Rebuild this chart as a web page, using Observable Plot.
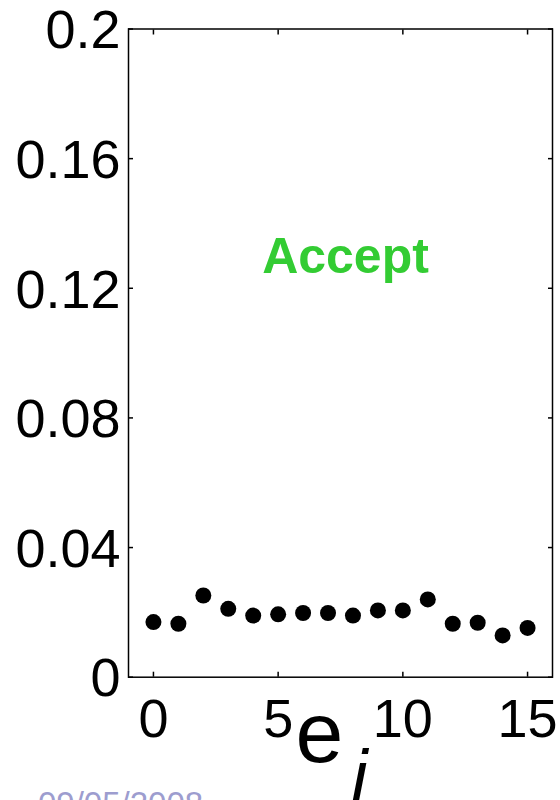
<!DOCTYPE html>
<html><head><meta charset="utf-8">
<script src="https://cdn.jsdelivr.net/npm/d3@7"></script>
<script src="https://cdn.jsdelivr.net/npm/@observablehq/plot@0.6"></script>
<style>
html,body{margin:0;padding:0;background:#fff;overflow:hidden;}
#wrap{position:relative;width:560px;height:800px;overflow:hidden;}
#date{position:absolute;left:38px;top:787px;font:33px "Liberation Sans",Arial,sans-serif;color:#9d9dcf;line-height:1;white-space:nowrap;}
</style></head><body>
<div id="wrap"><div id="chart"></div><div id="date">09/05/2008</div></div>
<script>
const ei = [0,1,2,3,4,5,6,7,8,9,10,11,12,13,14,15];
const values = [0.0170,0.0165,0.0252,0.0211,0.0190,0.0194,0.0198,0.0198,0.0190,0.0206,0.0206,0.0240,0.0165,0.0168,0.0129,0.0152];
const xTicks = [0,5,10,15];
const yTicks = [0,0.04,0.08,0.12,0.16,0.2];
const yTickLabels = ["0","0.04","0.08","0.12","0.16","0.2"];
const annotation = [{x: 7.7, y: 0.1246, text: "Accept"}];
const xLabelMain = "e";
const xLabelSub = "i";

const data = ei.map((e, i) => ({e, v: values[i]}));
const font = '"Liberation Sans", Arial, Helvetica, sans-serif';

const plot = Plot.plot({
  width: 560,
  height: 800,
  marginLeft: 128,
  marginRight: 8,
  marginTop: 28.5,
  marginBottom: 123.3,
  style: {fontFamily: font, background: "white", color: "black"},
  x: {domain: [-1, 16]},
  y: {domain: [0, 0.2]},
  marks: [
    Plot.frame({stroke: "black", strokeWidth: 1.5}),
    // tick labels
    Plot.axisX({ticks: xTicks, anchor: "bottom", tickSize: 0, tickPadding: 21, fontSize: 54, label: null, tickFormat: d => String(d)}),
    Plot.axisY({ticks: yTicks, anchor: "left", tickSize: 0, tickPadding: 8, dy: 2, fontSize: 54, label: null, tickFormat: d => yTickLabels[yTicks.indexOf(d)]}),
    // inward ticks on all four sides
    Plot.axisX({ticks: xTicks, anchor: "bottom", tickSize: -5, strokeWidth: 1.5, tickFormat: () => "", label: null}),
    Plot.axisX({ticks: xTicks, anchor: "top", tickSize: -5, strokeWidth: 1.5, tickFormat: () => "", label: null}),
    Plot.axisY({ticks: yTicks, anchor: "left", tickSize: -5, strokeWidth: 1.5, tickFormat: () => "", label: null}),
    Plot.axisY({ticks: yTicks, anchor: "right", tickSize: -5, strokeWidth: 1.5, tickFormat: () => "", label: null}),
    Plot.dot(data, {x: "e", y: "v", r: 8, fill: "black", stroke: null}),
    Plot.text(annotation, {x: "x", y: "y", text: "text", fill: "#33cc33", fontSize: 50, fontWeight: "bold", lineAnchor: "bottom"}),
    Plot.text([xLabelMain], {text: d => d, frameAnchor: "bottom", dx: -21, dy: 85, lineAnchor: "bottom", fontSize: 86, fill: "black"}),
    Plot.text([xLabelSub], {text: d => d, frameAnchor: "bottom", dx: 19, dy: 124, lineAnchor: "bottom", fontSize: 72, fontStyle: "italic", fill: "black"})
  ]
});
document.getElementById("chart").appendChild(plot);
</script>
</body></html>
